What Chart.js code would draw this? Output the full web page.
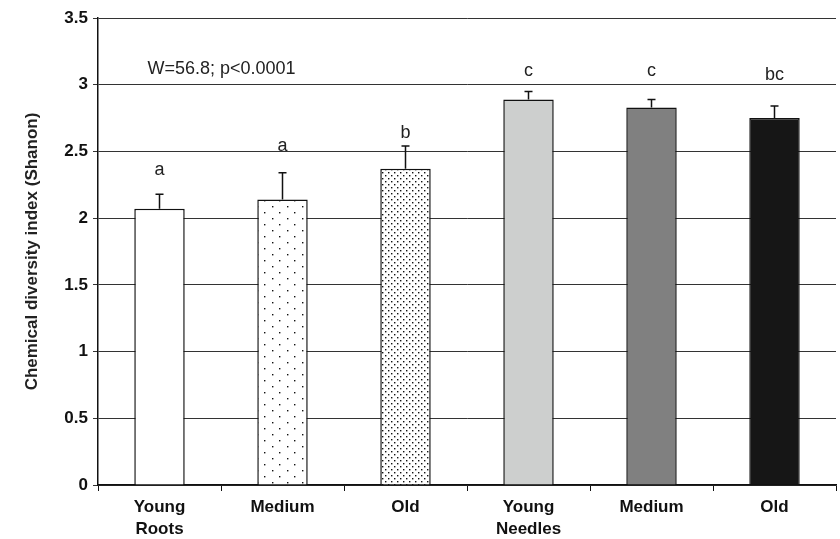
<!DOCTYPE html>
<html>
<head>
<meta charset="utf-8">
<script src="https://cdn.jsdelivr.net/npm/chart.js@4"></script>
<style>
  html, body { margin: 0; padding: 0; background: #fff; }
  #wrap { width: 840px; height: 539px; }
</style>
</head>
<body>
<div id="wrap"><canvas id="chart" width="840" height="539"></canvas></div>
<script>
// --- data ---
const categories = [["Young", "Roots"], "Medium", "Old", ["Young", "Needles"], "Medium", "Old"];
const shannon = [2.07, 2.14, 2.37, 2.89, 2.83, 2.75];
const errUpper = [2.18, 2.34, 2.54, 2.95, 2.89, 2.84];
const letters = ["a", "a", "b", "c", "c", "bc"];
const letterAt = [2.36, 2.54, 2.64, 3.1, 3.1, 3.07];
const yTicks = [0, 0.5, 1, 1.5, 2, 2.5, 3, 3.5];
const statText = "W=56.8; p<0.0001";

// dotted fills for the root bars
function dotPattern(w, h, dots, r) {
  const c = document.createElement("canvas");
  c.width = w; c.height = h;
  const g = c.getContext("2d");
  g.fillStyle = "#fff";
  g.fillRect(0, 0, w, h);
  g.fillStyle = "#111";
  dots.forEach(([x, y]) => g.fillRect(x, y, r, r));
  return g.createPattern(c, "repeat");
}
const ctx = document.getElementById("chart").getContext("2d");
const sparse = dotPattern(15, 12, [[2, 2], [9, 8]], 1.4);
const dense = dotPattern(6, 6, [[1, 1], [4, 4]], 1.4);

const fills = ["#ffffff", sparse, dense, "#cdcfce", "#808080", "#161616"];

// error bars + letters + statistic text
const extras = {
  id: "extras",
  afterDatasetsDraw(chart) {
    const { ctx, scales: { x, y } } = chart;
    ctx.save();
    ctx.strokeStyle = "#111";
    ctx.lineWidth = 1.5;
    shannon.forEach((v, i) => {
      const px = x.getPixelForValue(i);
      const top = y.getPixelForValue(errUpper[i]);
      ctx.beginPath();
      ctx.moveTo(px, y.getPixelForValue(v));
      ctx.lineTo(px, top);
      ctx.moveTo(px - 4, top);
      ctx.lineTo(px + 4, top);
      ctx.stroke();
    });
    ctx.fillStyle = "#222";
    ctx.font = "18px 'Liberation Sans', Arial, sans-serif";
    ctx.textAlign = "center";
    ctx.textBaseline = "middle";
    letters.forEach((t, i) => {
      ctx.fillText(t, x.getPixelForValue(i), y.getPixelForValue(letterAt[i]));
    });
    ctx.textAlign = "left";
    ctx.fillText(statText, x.getPixelForValue(0) - 12, y.getPixelForValue(3.12));
    ctx.restore();
  }
};

new Chart(ctx, {
  type: "bar",
  data: {
    labels: categories,
    datasets: [
      {
        data: shannon,
        backgroundColor: fills,
        borderColor: "#111",
        borderWidth: 1.5,
        barPercentage: 0.82,
        categoryPercentage: 0.5,
      },
    ],
  },
  options: {
    responsive: false,
    animation: false,
    layout: { padding: { top: 18, right: 4, left: 0, bottom: 0 } },
    plugins: { legend: { display: false }, tooltip: { enabled: false } },
    scales: {
      x: {
        afterFit: (s) => { s.height = 54; },
        grid: {
          offset: true,
          drawOnChartArea: false,
          color: "#111",
          tickLength: 6,
        },
        border: { color: "#111", width: 1.5 },
        ticks: {
          color: "#111",
          padding: 6,
          maxRotation: 0,
          font: { family: "'Liberation Sans', Arial", size: 17, weight: "bold", lineHeight: 1.25 },
        },
      },
      y: {
        min: 0,
        max: 3.5,
        afterFit: (s) => { s.width = 98; },
        afterBuildTicks: (s) => { s.ticks = yTicks.map((v) => ({ value: v })); },
        grid: { color: "#333", lineWidth: 1, tickLength: 5 },
        border: { color: "#111", width: 1.5 },
        ticks: {
          color: "#111",
          padding: 5,
          callback: (v) => String(v),
          font: { family: "'Liberation Sans', Arial", size: 17, weight: "bold" },
        },
        title: {
          display: true,
          text: "Chemical diversity index (Shanon)",
          color: "#222",
          padding: { top: 22, bottom: 0 },
          font: { family: "'Liberation Sans', Arial", size: 17, weight: "bold" },
        },
      },
    },
  },
  plugins: [extras],
});
</script>
</body>
</html>
